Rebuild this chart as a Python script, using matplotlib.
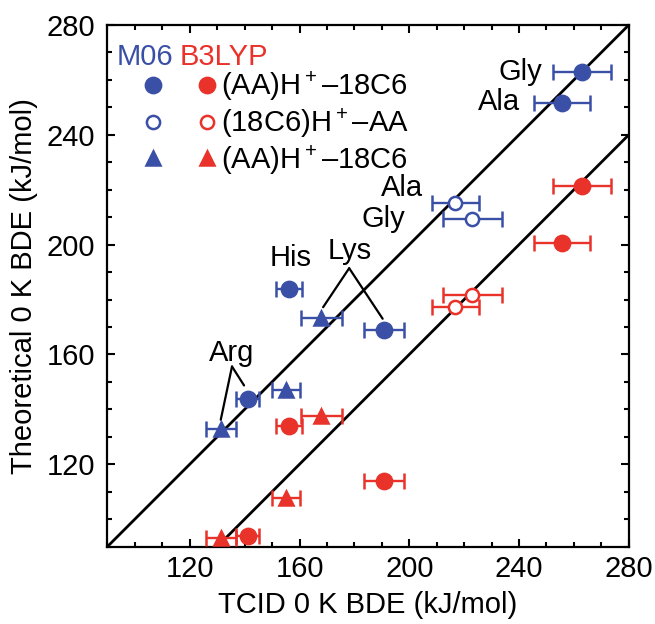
import matplotlib
matplotlib.use('Agg')
import matplotlib.pyplot as plt
from matplotlib.ticker import MultipleLocator
from matplotlib.legend_handler import HandlerTuple

plt.rcParams['font.family'] = ['Liberation Sans', 'DejaVu Sans']
plt.rcParams['mathtext.fontset'] = 'custom'
plt.rcParams['mathtext.rm'] = 'Liberation Sans'

BLUE = '#3a4fa6'
RED = '#e8322a'

# (AA)H+-18C6, filled circles: Gly, Ala, His, Lys, Arg
circ_names = ['Gly', 'Ala', 'His', 'Lys', 'Arg']
circ_tcid = [263.0, 255.7, 156.2, 190.9, 141.2]
circ_err = [10.6, 10.2, 4.8, 7.3, 4.2]
circ_m06 = [262.9, 251.5, 183.9, 169.0, 143.9]
circ_b3lyp = [221.5, 200.7, 134.0, 114.0, 93.8]

# (18C6)H+-AA, open circles: Ala, Gly
open_names = ['Ala', 'Gly']
open_tcid = [216.8, 223.0]
open_err = [8.6, 10.8]
open_m06 = [215.1, 209.4]
open_b3lyp = [177.2, 181.5]

# (AA)H+-18C6, triangles: Lys, His, Arg
tri_tcid = [168.0, 155.0, 131.3]
tri_err = [7.4, 5.0, 5.4]
tri_m06 = [173.2, 146.9, 132.9]
tri_b3lyp = [137.4, 107.7, 93.1]

# reference lines y = x + offset
line_offsets = [0, -40]

fs = 21

fig = plt.figure(figsize=(6.55, 6.24), dpi=100)
ax = fig.add_axes([0.164, 0.124, 0.796, 0.836])
lo, hi = 90, 280

for off in line_offsets:
    ax.plot([lo - off, hi], [lo, hi + off], color='black', lw=2.0, zorder=1)


def draw(x, y, xerr, color, marker, filled, ms):
    eb = ax.errorbar(x, y, xerr=xerr, fmt=marker, color=color, ecolor=color,
                     elinewidth=1.7, capsize=6, capthick=1.7, ms=ms,
                     mfc=color if filled else 'white', mec=color, mew=1.8,
                     zorder=3)
    for a in eb.get_children():
        a.set_clip_on(False)
    return eb[0]


hb1 = draw(circ_tcid, circ_m06, circ_err, BLUE, 'o', True, 11)
hr1 = draw(circ_tcid, circ_b3lyp, circ_err, RED, 'o', True, 11)
hb2 = draw(open_tcid, open_m06, open_err, BLUE, 'o', False, 9.5)
hr2 = draw(open_tcid, open_b3lyp, open_err, RED, 'o', False, 9.5)
hb3 = draw(tri_tcid, tri_m06, tri_err, BLUE, '^', True, 10.5)
hr3 = draw(tri_tcid, tri_b3lyp, tri_err, RED, '^', True, 10.5)

ax.set_xlim(lo, hi)
ax.set_ylim(lo, hi)
ax.set_xticks([120, 160, 200, 240, 280])
ax.set_yticks([120, 160, 200, 240, 280])
ax.xaxis.set_minor_locator(MultipleLocator(10))
ax.yaxis.set_minor_locator(MultipleLocator(10))
ax.tick_params(which='both', direction='in', top=True, right=True,
               width=1.5, labelsize=fs)
ax.tick_params(which='major', length=6)
ax.tick_params(which='minor', length=3.5)
ax.tick_params(axis='x', pad=6)
ax.tick_params(axis='y', pad=9)
for s in ax.spines.values():
    s.set_linewidth(1.6)

ax.set_xlabel('TCID 0 K BDE (kJ/mol)', fontsize=fs, labelpad=6)
ax.set_ylabel('Theoretical 0 K BDE (kJ/mol)', fontsize=fs, labelpad=6)

# labels
ax.text(248.5, 263.0, 'Gly', fontsize=fs, ha='right', va='center')
ax.text(240.5, 252.1, 'Ala', fontsize=fs, ha='right', va='center')
ax.text(205.1, 220.7, 'Ala', fontsize=fs, ha='right', va='center')
ax.text(198.5, 209.4, 'Gly', fontsize=fs, ha='right', va='center')
ax.text(156.7, 195.1, 'His', fontsize=fs, ha='center', va='center')
ax.text(178.4, 197.5, 'Lys', fontsize=fs, ha='center', va='center')
ax.text(135.2, 160.5, 'Arg', fontsize=fs, ha='center', va='center')

conn = dict(arrowstyle='-', color='black', lw=1.6, shrinkA=0, shrinkB=0)
for xy in [(168.6, 177.2), (190.3, 173.0)]:
    ax.annotate('', xy=xy, xytext=(178.1, 191.4), arrowprops=conn)
for xy in [(139.8, 148.7), (131.3, 136.2)]:
    ax.annotate('', xy=xy, xytext=(135.4, 155.6), arrowprops=conn)

# legend header
ax.text(0.018, 0.939, 'M06', color=BLUE, fontsize=fs, transform=ax.transAxes,
        ha='left', va='center')
ax.text(0.139, 0.939, 'B3LYP', color=RED, fontsize=fs, transform=ax.transAxes,
        ha='left', va='center')

ax.legend([(hb1, hr1), (hb2, hr2), (hb3, hr3)],
          ['(AA)H$^+$–18C6', '(18C6)H$^+$–AA', '(AA)H$^+$–18C6'],
          handler_map={tuple: HandlerTuple(ndivide=None, pad=0.3)},
          loc='upper left', bbox_to_anchor=(0.045, 0.915), frameon=False,
          fontsize=fs, numpoints=1, handlelength=3.4, handletextpad=-0.3,
          labelspacing=0.1, borderaxespad=0, borderpad=0)

fig.savefig('out.png', dpi=100)
